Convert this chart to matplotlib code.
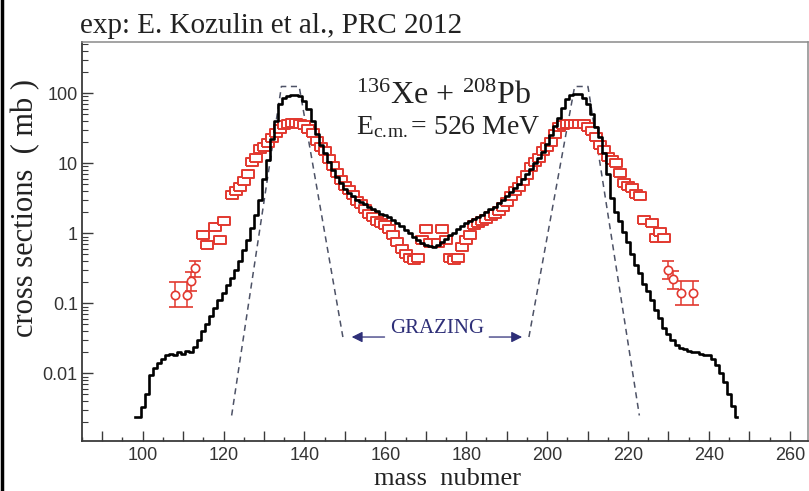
import numpy as np
import matplotlib
matplotlib.use('Agg')
import matplotlib.pyplot as plt
from matplotlib.ticker import MultipleLocator, LogLocator, FuncFormatter, NullFormatter
from matplotlib.lines import Line2D

plt.rcParams['mathtext.fontset'] = 'custom'
plt.rcParams['mathtext.rm'] = 'Liberation Serif'
plt.rcParams['mathtext.it'] = 'Liberation Serif:italic'

# theory (black histogram), one value per mass number 98..247
A_th = list(range(98, 248))
sig_th = [0.0024, 0.0024, 0.0033, 0.005, 0.0095, 0.012, 0.014, 0.016, 0.018, 0.019,
          0.018, 0.02, 0.019, 0.021, 0.02, 0.024, 0.03, 0.04, 0.05, 0.065,
          0.085, 0.11, 0.14, 0.18, 0.23, 0.3, 0.4, 0.58, 0.8, 1.2,
          1.8, 3.0, 6.0, 11, 22, 40, 70, 86, 92, 95,
          95, 90, 78, 60, 40, 26, 18, 14, 10.5, 8.0,
          6.3, 5.2, 4.3, 3.8, 3.4, 3.0, 2.8, 2.6, 2.35, 2.2,
          2.05, 1.9, 1.8, 1.7, 1.55, 1.4, 1.28, 1.12, 1.0, 0.9,
          0.8, 0.72, 0.68, 0.65, 0.63, 0.68, 0.75, 0.84, 0.95, 1.02,
          1.15, 1.28, 1.4, 1.5, 1.6, 1.72, 1.85, 2.0, 2.2, 2.4,
          2.7, 3.0, 3.4, 3.9, 4.5, 5.1, 6.0, 7.0, 8.3, 10,
          12, 14.5, 19, 25, 34, 45, 62, 82, 93, 98,
          97, 85, 70, 50, 33, 24, 14, 7.0, 3.2, 2.0,
          1.5, 1.05, 0.75, 0.5, 0.35, 0.27, 0.19, 0.15, 0.11, 0.08,
          0.062, 0.045, 0.036, 0.03, 0.025, 0.023, 0.022, 0.021, 0.02, 0.02,
          0.019, 0.018, 0.018, 0.016, 0.013, 0.01, 0.0075, 0.005, 0.0034, 0.0024]

# experiment (red open markers)
A_exp = [115, 116, 118, 119, 120, 122, 123, 124, 125, 126, 127, 128, 129, 130,
         131, 132, 133, 134, 135, 136, 137, 138, 139, 140, 141, 142, 143, 144,
         145, 146, 147, 148, 149, 150, 151, 152, 153, 154, 155, 156, 157, 158,
         159, 160, 161, 162, 163, 164, 165, 166, 167, 168, 169, 170, 171, 173,
         174, 175, 176, 177, 178, 179, 180, 181, 182, 183, 184, 185, 186, 187,
         188, 189, 190, 191, 192, 193, 194, 195, 196, 197, 198, 199, 200, 201,
         202, 203, 204, 205, 206, 207, 208, 209, 210, 211, 212, 213, 214, 215,
         216, 217, 218, 219, 220, 221, 222, 223, 224, 226, 227, 228, 229]
sig_exp = [0.95, 0.68, 1.25, 0.8, 1.5, 3.5, 4.0, 4.6, 5.5, 7.0, 10.5, 11.8, 16, 17,
           19.5, 23, 27, 31, 35, 37, 38, 38, 37, 35, 31, 27, 21, 17,
           15, 11.5, 9, 7.2, 5.8, 4.8, 4.2, 3.5, 2.9, 2.6, 2.2, 1.9, 1.7, 1.5,
           1.42, 1.3, 1.15, 0.95, 0.75, 0.6, 0.5, 0.44, 0.42, 0.44, 0.8, 1.17, 0.72, 0.72,
           1.17, 0.8, 0.44, 0.42, 0.44, 0.64, 0.8, 0.95, 1.3, 1.4, 1.5, 1.6, 1.75, 1.9,
           2.1, 2.4, 2.8, 3.4, 4.0, 4.6, 5.6, 6.8, 8.9, 10.5, 12, 15, 17, 20,
           26, 33, 35, 37, 37, 37, 37, 36, 33, 29, 24, 18, 15.5, 12.5,
           11, 10, 7.2, 5.2, 4.8, 4.4, 3.7, 3.4, 1.55, 1.4, 0.85, 1.05, 0.85]

# experiment tails with error bars
A_err = [108, 111, 112, 113, 230, 231, 233, 236]
sig_err = [0.13, 0.13, 0.21, 0.32, 0.3, 0.22, 0.14, 0.14]
err_lo = [0.089, 0.089, 0.15, 0.24, 0.22, 0.16, 0.095, 0.095]
err_hi = [0.2, 0.2, 0.28, 0.4, 0.4, 0.29, 0.21, 0.21]

# grazing model (dashed)
A_gr_left = [122, 134.3, 138.7, 149.5]
sig_gr_left = [0.0025, 125, 125, 0.033]
A_gr_right = [195.5, 206.8, 210.1, 222.8]
sig_gr_right = [0.033, 125, 125, 0.0025]

W, H = 809, 491
fig = plt.figure(figsize=(W / 100, H / 100), dpi=100)
ax = fig.add_axes([82 / W, 1 - 441 / H, 726 / W, 399 / H])
ax.set_yscale('log')
ax.set_xlim(85, 264.5)
ax.set_ylim(0.00108, 540)

red = '#e2382f'
rect = [(-1, -0.68), (1, -0.68), (1, 0.68), (-1, 0.68), (-1, -0.68)]

# dashed grazing
ax.plot(A_gr_left, sig_gr_left, color='#4d5266', lw=1.1, ls=(0, (4, 3)), zorder=2)
ax.plot(A_gr_right, sig_gr_right, color='#4d5266', lw=1.1, ls=(0, (4, 3)), zorder=2)

# experiment
ax.plot(A_exp, sig_exp, ls='none', marker=rect, ms=8, mfc='white', mec=red,
        mew=1.4, zorder=3)
yerr = [np.array(sig_err) - np.array(err_lo), np.array(err_hi) - np.array(sig_err)]
ax.errorbar(A_err, sig_err, yerr=yerr, fmt='o', ms=6, mfc='white', mec=red,
            mew=1.2, ecolor=red, elinewidth=1.1, capsize=4.5, capthick=1.1, zorder=3)

# theory
ax.step(A_th, sig_th, where='mid', color='black', lw=1.9, zorder=4)

# grazing arrows
navy = '#2e2f78'
ax.annotate('', xy=(151, 0.033), xytext=(160.5, 0.033),
            arrowprops=dict(arrowstyle='-|>', color=navy, lw=0.9, mutation_scale=16))
ax.annotate('', xy=(194.5, 0.033), xytext=(185, 0.033),
            arrowprops=dict(arrowstyle='-|>', color=navy, lw=0.9, mutation_scale=16))
ax.text(172.7, 0.043, 'GRAZING', color=navy, fontsize=15, family='Liberation Serif',
        ha='center', va='center')

# reaction labels
ax.text(0.378, 0.845, r'$^{136}$Xe + $^{208}$Pb', transform=ax.transAxes,
        fontsize=23, family='Liberation Serif', color='#222222', va='baseline')
ax.text(0.378, 0.77, r'E$_{\mathrm{c.\!m.}}$= 526 MeV', transform=ax.transAxes,
        fontsize=20, family='Liberation Serif', color='#222222', va='baseline')

# axes styling
for s in ['left', 'bottom']:
    ax.spines[s].set_color('#3a3a3a')
    ax.spines[s].set_linewidth(1.3)
for s in ['top', 'right']:
    ax.spines[s].set_color('#8a8a8a')
    ax.spines[s].set_linewidth(1.1)

ax.xaxis.set_major_locator(MultipleLocator(10))
ax.xaxis.set_minor_locator(MultipleLocator(5))
ax.xaxis.set_major_formatter(FuncFormatter(lambda v, p: f'{int(v)}' if int(v) % 20 == 0 else ''))
ax.yaxis.set_major_locator(LogLocator(base=10, numticks=10))
ax.yaxis.set_minor_locator(LogLocator(base=10, subs=np.arange(2, 10), numticks=20))
ax.yaxis.set_major_formatter(FuncFormatter(lambda v, p: f'{v:g}'))
ax.yaxis.set_minor_formatter(NullFormatter())
ax.tick_params(which='both', direction='in', top=False, right=False,
               color='#3a3a3a', labelcolor='#333333')
ax.tick_params(axis='x', which='major', length=7, width=1.0, labelsize=13, pad=4)
ax.tick_params(axis='x', which='minor', length=3, width=1.0)
ax.tick_params(axis='y', which='major', length=8, width=1.0, labelsize=13, pad=3)
ax.tick_params(axis='y', which='minor', length=4, width=0.8)
for lab in ax.get_xticklabels() + ax.get_yticklabels():
    lab.set_family(['Liberation Sans Narrow', 'Liberation Sans'])

fig.text(80 / W, 1 - 33 / H, 'exp: E. Kozulin et al., PRC 2012', fontsize=21,
         family='Liberation Serif', color='#222222', va='baseline', ha='left')
fig.text(26 / W, 1 - 208 / H, 'cross sections  ( mb )', rotation=90, fontsize=22,
         family='Liberation Serif', color='#222222', va='center', ha='center')
fig.text(447 / W, 1 / H, 'mass  nubmer', fontsize=19, family='Liberation Serif',
         color='#222222', va='bottom', ha='center')

# left border line of the picture
fig.add_artist(Line2D([2 / W, 2 / W], [0, 1], transform=fig.transFigure,
                      color='black', lw=2.5))

fig.savefig('out.png', dpi=100)
